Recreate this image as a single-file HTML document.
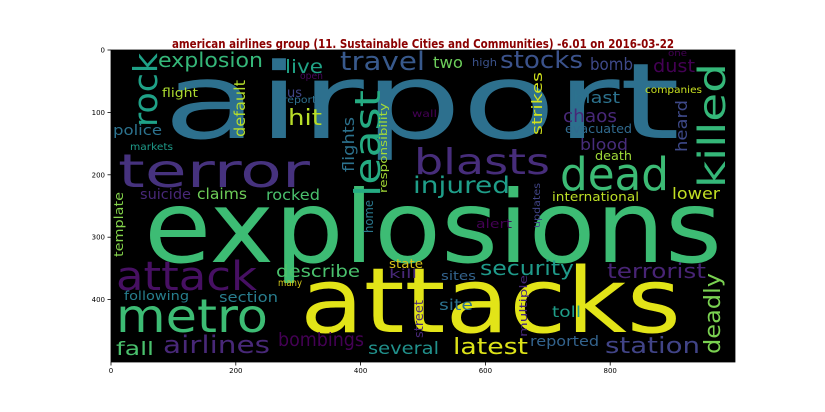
<!DOCTYPE html>
<html><head><meta charset="utf-8"><style>
html,body{margin:0;padding:0;background:#fff;}
svg{display:block;}
text{font-family:"DejaVu Sans","Liberation Sans",sans-serif;}
</style></head><body>
<svg id="chart" width="825" height="412" viewBox="0 0 825 412" xmlns="http://www.w3.org/2000/svg">
<rect width="825" height="412" fill="#fff"/>
<text x="423" y="48" text-anchor="middle" font-size="12.5" font-weight="bold" fill="#8b0000" textLength="502" lengthAdjust="spacingAndGlyphs">american airlines group (11. Sustainable Cities and Communities) -6.01 on 2016-03-22</text>
<rect x="111" y="50" width="624" height="312" fill="#000"/>
<g id="words"></g>
<rect x="111" y="50" width="624" height="312" fill="none" stroke="#000" stroke-width="0.8"/>
<g id="ticks"></g>
</svg>
<script>
const xTickValues = [0, 200, 400, 600, 800];
const xTickLabels = ["0", "200", "400", "600", "800"];
const yTickValues = [0, 100, 200, 300, 400];
const yTickLabels = ["0", "100", "200", "300", "400"];

// word, colour (horizontal words)
const hWords = ["airport","explosions","attacks","terror","metro","attack","dead","blasts","travel","stocks","explosion","injured","security","terrorist","station","latest","airlines","bombings","several","reported","describe","fall","chaos","blood","blast","dust","bomb","two","lower","hit","live","rocked","claims","suicide","police","section","following","markets","death","evacuated","international","companies","reports","flight","us","open","high","one","wall","alert","sites","site","toll","state","kill","many"];
const hColors = ["#2d708e","#3dbc74","#e2e418","#46327e","#3dbc74","#471063","#3cbb75","#472d7b","#38598c","#3b528b","#35b779","#1f9e89","#1f9a8a","#482475","#414487","#dde318","#482878","#440154","#21918c","#33638d","#4ac16d","#4ac16d","#482878","#472d7b","#2c728e","#440154","#3e4989","#6ccd5a","#c2df23","#b8de29","#20a386","#4ac16d","#6ece58","#482878","#2c728e","#287d8e","#277f8e","#1e9b8a","#a0da39","#306a8e","#bddf26","#c8e020","#2e6f8e","#addc30","#404688","#46085c","#3b528b","#440154","#440154","#440154","#33638d","#2c728e","#1f9e89","#d8c21a","#482878","#d2c71a"];
// layout (screen px): left, right, baseline, font size
const hLeft  = [163,144,300,118,116,116,560,414,340,500,158,413,480,607,605,453,163,278,368,530,276,116,563,580,573,653,590,433,672,288,285,266,197,140,113,219,124,130,595,565,552,645,283,162,287,300,472,668,412,476,441,439,552,389,389,278];
const hRight = [680,722,681,310,268,257,669,550,425,583,263,510,574,706,700,528,270,364,439,599,360,154,617,628,620,695,633,463,720,322,323,320,247,191,162,278,189,173,632,632,639,702,322,198,302,323,497,687,437,512,476,473,581,423,417,302];
const hBase  = [138,262,332,187,332,290,190,174,70,68,67,193,275,278,353,354,353,346,354,346,277,355,122,150,103,72,70,68,199,125,73,200,199,199,135,302,300,150,160,133,201,93,103,97,97,79,66,56,117,228,280,310,317,268,278,286];
const hSize  = [105,100,90,46,46,40,45,36,26,24,20,23,20,20,22,22,24,19,17,14,17,19,18,16,16,18,17,16,16,22,19,15,15,14,14,14,12,10,12,12,12,10,10,12,13,9.5,10.5,9,10,12,12,15,15,12,12,10];

// vertical words (rotated -90)
const vWords = ["rock","least","killed","default","flights","responsibility","strikes","heard","template","home","updates","deadly","multiple","street"];
const vColors = ["#1fa187","#25ab82","#35b779","#b5de2b","#2c728e","#a5db36","#d0e11c","#3e4989","#84d44b","#2a788e","#414487","#7ad151","#482878","#482878"];
const vBaseX  = [157,380,725,245,354,387,542,687,123,373,540,720,527,423];
const vBottom = [127,197,188,137,172,193,135,152,257,233,228,354,337,338];
const vTop    = [53,90,63,80,117,103,72,100,192,200,183,273,275,300];
const vSize   = [33,36,37,15,16,11,14,16,12,12,10,22,11,12];

const NS = "http://www.w3.org/2000/svg";
const wordsG = document.getElementById("words");
const ticksG = document.getElementById("ticks");
const X0 = 111, Y0 = 50, K = 0.624;
function xScale(v){ return X0 + v*K; }
function yScale(v){ return Y0 + v*K; }

hWords.forEach((w,i)=>{
  const t = document.createElementNS(NS,"text");
  
  
  t.setAttribute("x", hLeft[i]);
  t.setAttribute("y", hBase[i]);
  t.setAttribute("font-size", hSize[i]);
  t.setAttribute("fill", hColors[i]);
  t.setAttribute("textLength", hRight[i]-hLeft[i]);
  t.setAttribute("lengthAdjust", "spacingAndGlyphs");
  t.textContent = w;
  wordsG.appendChild(t);
});
vWords.forEach((w,i)=>{
  const t = document.createElementNS(NS,"text");
  
  
  t.setAttribute("transform", "translate(" + vBaseX[i] + "," + vBottom[i] + ") rotate(-90)");
  t.setAttribute("font-size", vSize[i]);
  t.setAttribute("fill", vColors[i]);
  t.setAttribute("textLength", vBottom[i]-vTop[i]);
  t.setAttribute("lengthAdjust", "spacingAndGlyphs");
  t.textContent = w;
  wordsG.appendChild(t);
});

xTickValues.forEach((v,i)=>{
  const x = xScale(v);
  const l = document.createElementNS(NS,"line");
  
  
  l.setAttribute("x1", x); l.setAttribute("x2", x);
  l.setAttribute("y1", 362); l.setAttribute("y2", 365.5);
  l.setAttribute("stroke", "#000"); l.setAttribute("stroke-width", "0.8");
  ticksG.appendChild(l);
  const t = document.createElementNS(NS,"text");
  
  
  t.setAttribute("x", x); t.setAttribute("y", 373);
  t.setAttribute("font-size", "7"); t.setAttribute("text-anchor", "middle");
  t.setAttribute("fill", "#000");
  t.textContent = xTickLabels[i];
  ticksG.appendChild(t);
});
yTickValues.forEach((v,i)=>{
  const y = yScale(v);
  const l = document.createElementNS(NS,"line");
  
  
  l.setAttribute("x1", 107.5); l.setAttribute("x2", 111);
  l.setAttribute("y1", y); l.setAttribute("y2", y);
  l.setAttribute("stroke", "#000"); l.setAttribute("stroke-width", "0.8");
  ticksG.appendChild(l);
  const t = document.createElementNS(NS,"text");
  
  
  t.setAttribute("x", 105); t.setAttribute("y", y + 2.5);
  t.setAttribute("font-size", "7"); t.setAttribute("text-anchor", "end");
  t.setAttribute("fill", "#000");
  t.textContent = yTickLabels[i];
  ticksG.appendChild(t);
});
</script>
</body></html>
